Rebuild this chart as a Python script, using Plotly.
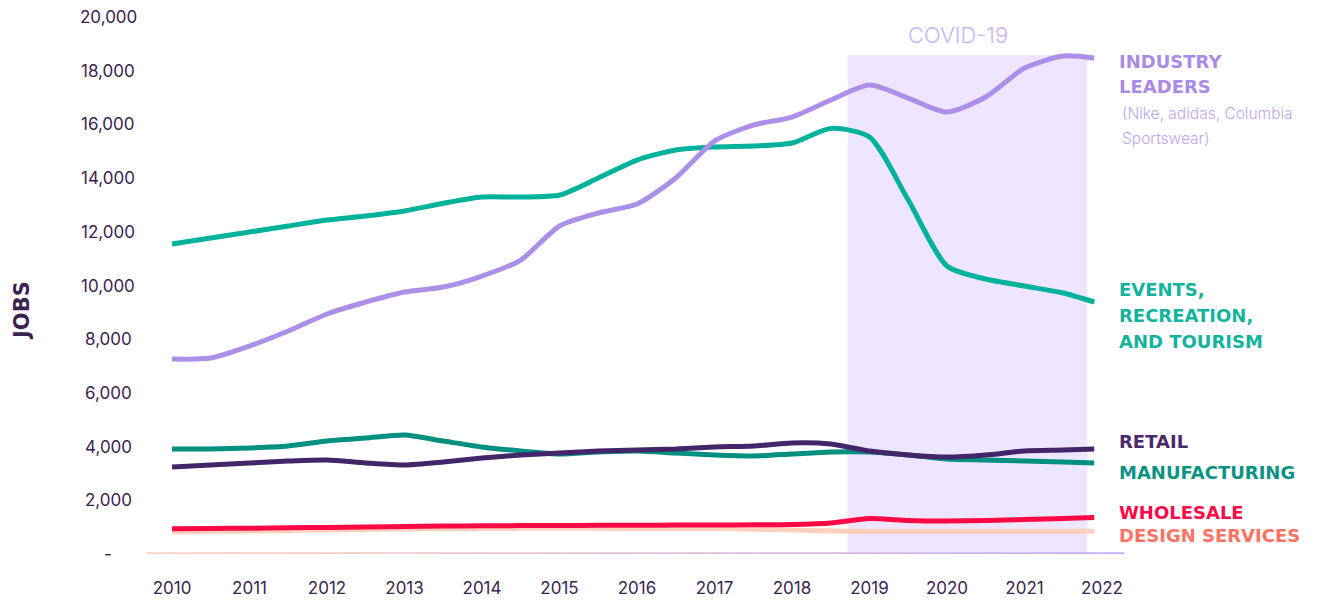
import plotly.graph_objects as go

# ---------------- data ----------------
years = [2010, 2010.5, 2011, 2011.5, 2012, 2012.5, 2013, 2013.5, 2014, 2014.5,
         2015, 2015.5, 2016, 2016.5, 2017, 2017.5, 2018, 2018.5, 2019, 2019.5,
         2020, 2020.5, 2021, 2021.5, 2021.9]

industry_leaders = [7262, 7299, 7746, 8305, 8938, 9385, 9757, 9943, 10353, 10949,
                    12215, 12699, 13034, 14002, 15380, 15976, 16274, 16907, 17466, 16981,
                    16460, 17019, 18099, 18546, 18471]
events_recreation_tourism = [11544, 11768, 11991, 12215, 12438, 12587, 12773, 13061, 13295, 13295,
                             13369, 14002, 14672, 15045, 15157, 15194, 15306, 15850, 15530, 13183,
                             10725, 10241, 9980, 9720, 9385]
retail = [3240, 3314, 3389, 3463, 3501, 3389, 3314, 3426, 3575, 3687,
          3761, 3836, 3873, 3910, 3985, 4022, 4134, 4096, 3836, 3687,
          3612, 3687, 3836, 3873, 3910]
manufacturing = [3910, 3910, 3947, 4022, 4208, 4320, 4432, 4208, 3985, 3836,
                 3724, 3799, 3836, 3761, 3687, 3650, 3724, 3799, 3799, 3687,
                 3538, 3501, 3463, 3426, 3389]
wholesale = [940, 950, 960, 975, 990, 1005, 1024, 1043, 1050, 1058,
             1061, 1069, 1072, 1076, 1080, 1087, 1099, 1154, 1322, 1248,
             1229, 1248, 1285, 1322, 1359]
design_services = [830, 845, 857, 875, 894, 912, 931, 940, 950, 955,
                   957, 955, 952, 950, 950, 925, 894, 860, 845, 845,
                   845, 845, 845, 845, 845]

x_ticks = [2010, 2011, 2012, 2013, 2014, 2015, 2016, 2017, 2018, 2019, 2020, 2021, 2022]
y_ticks = [0, 2000, 4000, 6000, 8000, 10000, 12000, 14000, 16000, 18000, 20000]
y_tick_text = ["-", "2,000", "4,000", "6,000", "8,000", "10,000", "12,000",
               "14,000", "16,000", "18,000", "20,000"]

covid_start, covid_end, covid_top = 2018.72, 2021.81, 18580
covid_label_x = 2020.14

# ---------------- figure ----------------
W, H = 1341, 600
ML, MR, MT, MB = 147, 217, 17, 46
PW, PH = W - ML - MR, H - MT - MB

TXT = "#3b2350"

series = [
    ("Design services", design_services, "#ffd0bc"),
    ("Wholesale", wholesale, "#ff0a45"),
    ("Manufacturing", manufacturing, "#00907f"),
    ("Retail", retail, "#45256a"),
    ("Events, recreation, and tourism", events_recreation_tourism, "#00b29c"),
    ("Industry leaders", industry_leaders, "#ab8fe8"),
]

fig = go.Figure()
for name, vals, col in series:
    fig.add_trace(go.Scatter(
        x=years, y=vals, mode="lines", name=name,
        line=dict(color=col, width=5, shape="spline", smoothing=0.7),
        hoverinfo="x+y+name"))

shapes = [dict(type="rect", xref="x", yref="y", x0=covid_start, x1=covid_end,
               y0=-120, y1=covid_top, fillcolor="#eee5ff", line=dict(width=0),
               layer="below")]
# gradient baseline (peach -> lavender)
c0 = (255, 212, 192)
c1 = (200, 176, 242)
n = 40
for i in range(n):
    t = i / (n - 1)
    c = tuple(int(round(c0[k] + (c1[k] - c0[k]) * t)) for k in range(3))
    shapes.append(dict(type="line", xref="paper", yref="y",
                       x0=i / n, x1=(i + 1) / n, y0=30, y1=30,
                       line=dict(color="rgb(%d,%d,%d)" % c, width=2), layer="above"))

annotations = []
# y tick labels (centred like the reference)
for v, t in zip(y_ticks, y_tick_text):
    annotations.append(dict(x=(108 - ML) / PW, xref="paper", y=v, yref="y",
                            text=t, showarrow=False, xanchor="center", yanchor="middle",
                            font=dict(family="Inter", size=17, color=TXT)))

def py(pix):
    return (H - MB - pix) / PH

lab_x = (1117 - ML) / PW
LAB_FONT = "DejaVu Sans"
labels = [
    ("INDUSTRY", 61, "#a98be6"), ("LEADERS", 86, "#a98be6"),
    ("EVENTS,", 289, "#13b39e"), ("RECREATION,", 315, "#13b39e"), ("AND TOURISM", 341, "#13b39e"),
    ("RETAIL", 441, "#4a2a6c"), ("MANUFACTURING", 472, "#0a9383"),
    ("WHOLESALE", 512, "#ff0a48"), ("DESIGN SERVICES", 535, "#ff7264"),
]
for t, yp, col in labels:
    annotations.append(dict(x=lab_x, xref="paper", y=py(yp), yref="paper", text=t,
                            showarrow=False, xanchor="left", yanchor="middle",
                            font=dict(family=LAB_FONT, size=18, color=col, weight="bold")))
for t, yp in [("(Nike, adidas, Columbia", 114), ("Sportswear)", 138)]:
    annotations.append(dict(x=(1120 - ML) / PW, xref="paper", y=py(yp), yref="paper", text=t,
                            showarrow=False, xanchor="left", yanchor="middle",
                            font=dict(family="Inter", size=15.5, color="#bca6f2", weight=300)))

annotations.append(dict(x=covid_label_x, xref="x", y=py(35), yref="paper",
                        text="COVID-19", showarrow=False, xanchor="center", yanchor="middle",
                        font=dict(family="Inter", size=22, color="#c9b3f6", weight=300)))
annotations.append(dict(x=(22 - ML) / PW, xref="paper", y=py(311), yref="paper",
                        text="JOBS", textangle=-90, showarrow=False,
                        xanchor="center", yanchor="middle",
                        font=dict(family=LAB_FONT, size=21, color=TXT, weight="bold")))

fig.update_layout(
    width=W, height=H,
    margin=dict(l=ML, r=MR, t=MT, b=MB, pad=0, autoexpand=False),
    paper_bgcolor="white", plot_bgcolor="white",
    showlegend=False,
    shapes=shapes, annotations=annotations,
    xaxis=dict(range=[2009.677, 2022.284], tickvals=x_ticks,
               ticktext=[str(v) for v in x_ticks], automargin=False,
               showgrid=False, zeroline=False, showline=False, ticks="",
               ticklabelstandoff=22,
               tickfont=dict(family="Inter", size=17, color=TXT)),
    yaxis=dict(range=[0, 20000], showticklabels=False, showgrid=False, automargin=False,
               zeroline=False, showline=False, ticks=""),
)

fig.write_html("out.html", post_script="document.body.style.margin='0';",
               config={"displayModeBar": False})
